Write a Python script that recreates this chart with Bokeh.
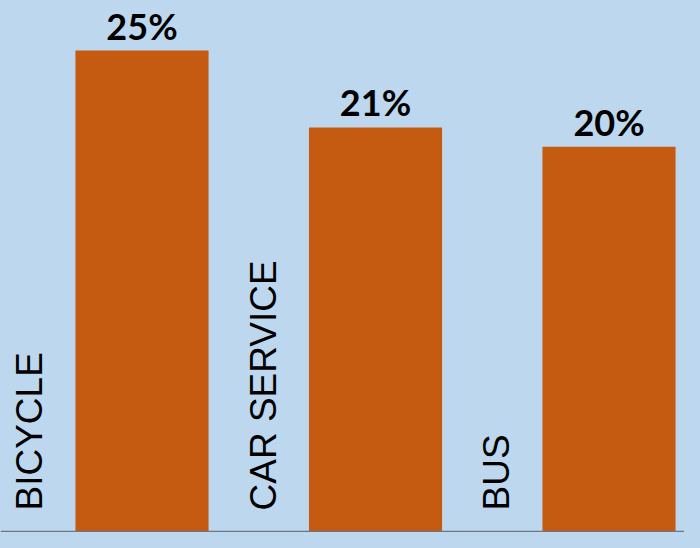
import math
from bokeh.plotting import figure
from bokeh.models import Range1d, ColumnDataSource, Span
from bokeh.core.properties import value
from bokeh.embed import file_html
from bokeh.resources import INLINE

categories = ["BICYCLE", "CAR SERVICE", "BUS"]
shares = [25, 21, 20]
share_labels = ["25%", "21%", "20%"]

BG = "#BDD7EE"
BAR = "#C55A11"

idx = list(range(len(categories)))
src = ColumnDataSource(dict(
    x=[i + 0.5 for i in idx],
    lx=[i + 0.019 for i in idx],
    y=shares,
    zero=[0] * len(idx),
    cat=categories,
    lab=share_labels,
))

p = figure(width=684, height=532, output_backend="svg", toolbar_location=None,
           x_range=Range1d(-0.106, 2.8233), y_range=Range1d(-0.052, 27.6),
           min_border=0, min_border_left=0, min_border_right=0,
           min_border_top=0, min_border_bottom=0)
p.axis.visible = False
p.grid.visible = False
p.outline_line_color = None
p.background_fill_color = BG
p.border_fill_color = BG

p.vbar(x="x", top="y", bottom=0, width=0.57, source=src, fill_color=BAR, line_color=None)

p.add_layout(Span(location=0, dimension="width", line_color="#6F7680", line_width=1.5))

p.text(x="x", y="y", text="lab", source=src, text_align="center", text_baseline="bottom",
       y_offset=-3, text_font=value("Lato"), text_font_style="bold", text_font_size="36px",
       text_color="black")

p.text(x="lx", y="zero", text="cat", source=src, angle=math.pi / 2, text_align="left",
       text_baseline="middle", y_offset=-21, text_font=value("Liberation Sans"),
       text_font_size="37px", text_color="black")

html = file_html(p, INLINE)
html = html.replace("<head>", "<head><style>html,body{background:#BDD7EE;}</style>", 1)
open("out.html", "w").write(html)
